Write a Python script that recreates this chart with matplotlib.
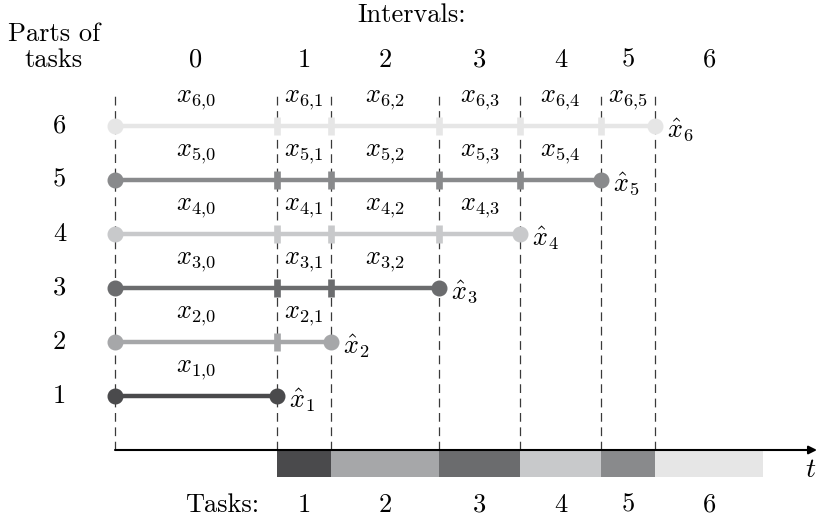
import matplotlib.pyplot as plt

plt.rcParams['font.family'] = 'serif'
plt.rcParams['font.serif'] = ['cmr10']
plt.rcParams['mathtext.fontset'] = 'cm'

# interval boundaries (time units) and task colours
bounds = [0, 6, 8, 12, 15, 18, 20, 24]
task_ids = [1, 2, 3, 4, 5, 6]
task_colors = ['#4a4a4c', '#a6a7a9', '#6b6c6e', '#c8c9cb', '#898a8c', '#e6e6e6']
interval_labels = ['0', '1', '2', '3', '4', '5', '6']

fig = plt.figure(figsize=(8.17, 5.17), dpi=100)
ax = fig.add_axes([0, 0, 1, 1])
ax.set_xlim(-115 / 27, (817 - 115) / 27)
ax.set_ylim(1 - 121 / 54, 1 + 396 / 54)
ax.axis('off')

fs = 19

# dashed guide lines
for b in bounds[:7]:
    ax.plot([b, b], [0, 6.57], color='#3a3a3a', lw=0.9, ls=(0, (7, 4.5)), zorder=1)

# time axis with arrow
ax.annotate('', xy=(26.0, 0), xytext=(0, 0),
            arrowprops=dict(arrowstyle='-|>', color='black', lw=1.5,
                            mutation_scale=12, shrinkA=0, shrinkB=0), zorder=3)
ax.text(25.75, -0.37, '$t$', fontsize=fs + 1, ha='center', va='center')

# task bars under the axis
for i, t in enumerate(task_ids):
    ax.bar(bounds[i + 1], -0.5, width=bounds[i + 2] - bounds[i + 1], bottom=0,
           align='edge', color=task_colors[i], zorder=2)
    ax.text((bounds[i + 1] + bounds[i + 2]) / 2, -1.02, str(t), fontsize=fs,
            ha='center', va='center')
ax.text(3.98, -1.02, 'Tasks:', fontsize=fs, ha='center', va='center')

# interval header
ax.text(11, 8.06, 'Intervals:', fontsize=fs, ha='center', va='center')
for j, lab in enumerate(interval_labels):
    ax.text((bounds[j] + bounds[j + 1]) / 2, 7.22, lab, fontsize=fs,
            ha='center', va='center')
ax.text(-2.26, 7.7, 'Parts of', fontsize=fs, ha='center', va='center')
ax.text(-2.26, 7.22, 'tasks', fontsize=fs, ha='center', va='center')

# rows: task parts
for i, t in enumerate(task_ids):
    y = t
    c = task_colors[i]
    end = bounds[t]
    ax.text(-2.05, y, str(t), fontsize=fs, ha='center', va='center')
    ax.plot([0, end], [y, y], color=c, lw=3.2, solid_capstyle='butt', zorder=4)
    ax.plot([0, end], [y, y], 'o', color=c, ms=10.5, zorder=5)
    for b in bounds[1:t]:
        ax.plot([b, b], [y - 0.16, y + 0.16], color=c, lw=4.8,
                solid_capstyle='butt', zorder=4)
    for j in range(t):
        ax.text((bounds[j] + bounds[j + 1]) / 2, y + 0.47, f'$x_{{{t}{{,}}{j}}}$',
                fontsize=fs, ha='center', va='center')
    ax.text(end + 0.45, y - 0.08, f'$\\hat{{x}}_{{{t}}}$', fontsize=fs,
            ha='left', va='center')

fig.savefig('out.png', dpi=100)
